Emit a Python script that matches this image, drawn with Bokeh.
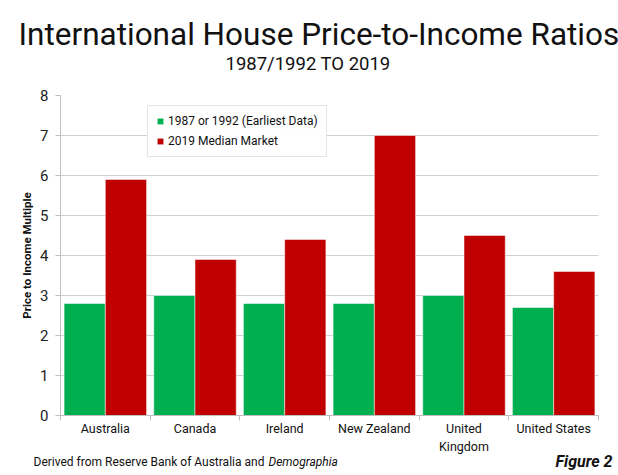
from bokeh.plotting import figure
from bokeh.models import (ColumnDataSource, FixedTicker, Legend, LegendItem, Range1d, Title)
from bokeh.embed import file_html
from bokeh.resources import INLINE

countries = ["Australia", "Canada", "Ireland", "New Zealand", "United\nKingdom", "United States"]
earliest = [2.8, 3.0, 2.8, 2.8, 3.0, 2.7]
median2019 = [5.9, 3.9, 4.4, 7.0, 4.5, 3.6]
y_ticks = [0, 1, 2, 3, 4, 5, 6, 7, 8]
series_names = ["1987 or 1992 (Earliest Data)", "2019 Median Market"]
title_text = "International House Price-to-Income Ratios"
subtitle_text = "1987/1992 TO 2019"
source_text = "Derived from Reserve Bank of Australia and"
source_italic = "Demographia"
figure_text = "Figure 2"

FONT = "Roboto"
GREEN = "#00B050"
RED = "#C00000"
TXT = "#111111"

centers = [i + 0.5 for i in range(len(countries))]
src = ColumnDataSource(dict(
    xg=[c - 0.23 for c in centers],
    xr=[c + 0.23 for c in centers],
    e=earliest, m=median2019))

p = figure(width=618, height=475, output_backend="svg", toolbar_location=None,
           x_range=Range1d(0, len(countries)), y_range=Range1d(0, 8),
           min_border_left=60, min_border_right=20, min_border_top=95,
           min_border_bottom=60)
p.background_fill_color = "white"
p.border_fill_color = "white"
p.outline_line_color = None

g = p.vbar(x="xg", top="e", width=0.46, source=src, fill_color=GREEN,
           line_color="white", line_width=0.5)
r = p.vbar(x="xr", top="m", width=0.46, source=src, fill_color=RED,
           line_color="white", line_width=0.5)

# ---- header (stacked outward from the frame) ----
p.add_layout(Title(text=" ", text_font_size="1px", standoff=18), "above")
p.add_layout(Title(text=subtitle_text, align="left", offset=165, text_font=FONT,
                   text_font_size="18.5px", text_font_style="normal",
                   text_color=TXT, standoff=0), "above")
p.add_layout(Title(text=title_text, align="left", offset=-42, text_font=FONT,
                   text_font_size="31.5px", text_font_style="normal",
                   text_color=TXT, standoff=-5), "above")

# ---- x axis ----
xa = p.xaxis[0]
xa.ticker = FixedTicker(ticks=centers, minor_ticks=list(range(len(countries) + 1)))
xa.major_label_overrides = {c: n for c, n in zip(centers, countries)}
xa.major_tick_line_color = None
xa.major_tick_in = 0
xa.major_tick_out = 2
xa.minor_tick_line_color = "#bfbfbf"
xa.minor_tick_in = 0
xa.minor_tick_out = 5
xa.axis_line_color = "#bfbfbf"
xa.major_label_text_font = FONT
xa.major_label_text_font_size = "12.5px"
xa.major_label_text_color = TXT
xa.major_label_standoff = 0
p.xgrid.grid_line_color = None

# ---- footer (same row: zero-height titles centred on one line) ----
p.add_layout(Title(text=" ", text_font_size="1px", standoff=2), "below")
p.add_layout(Title(text=source_text, align="left", offset=-27, vertical_align="middle",
                   text_font=FONT, text_font_size="12px", text_font_style="normal",
                   text_color=TXT, standoff=-16), "below")
p.add_layout(Title(text=source_italic, align="left", offset=208, vertical_align="middle",
                   text_font=FONT, text_font_size="12px", text_font_style="italic",
                   text_color=TXT, standoff=-16), "below")
p.add_layout(Title(text=figure_text, align="right", offset=-14, vertical_align="middle",
                   text_font=FONT, text_font_size="16px", text_font_style="bold italic",
                   text_color=TXT, standoff=-21), "below")

# ---- y axis ----
ya = p.yaxis[0]
ya.ticker = FixedTicker(ticks=y_ticks)
ya.axis_label = "Price to Income Multiple"
ya.axis_label_text_font = FONT
ya.axis_label_text_font_size = "11.5px"
ya.axis_label_text_font_style = "bold"
ya.axis_label_text_color = TXT
ya.axis_label_standoff = 3
ya.major_label_text_font = FONT
ya.major_label_text_font_size = "15px"
ya.major_label_text_color = "#222222"
ya.axis_line_color = "#bfbfbf"
ya.major_tick_line_color = "#bfbfbf"
ya.major_tick_in = 0
ya.major_tick_out = 5
ya.minor_tick_line_color = None
ya.major_label_standoff = 7
p.ygrid.grid_line_color = "#d0d0d0"
p.ygrid.grid_line_width = 1

legend = Legend(items=[LegendItem(label=series_names[0], renderers=[g]),
                       LegendItem(label=series_names[1], renderers=[r])],
                location=(87, 258), orientation="vertical",
                label_text_font=FONT, label_text_font_size="12px",
                label_text_color=TXT, glyph_width=8, glyph_height=8,
                label_standoff=4, spacing=6, padding=8, margin=0,
                border_line_color="#cccccc", background_fill_color="white",
                label_height=14)
p.add_layout(legend, "center")

open("out.html", "w").write(file_html(p, INLINE))
